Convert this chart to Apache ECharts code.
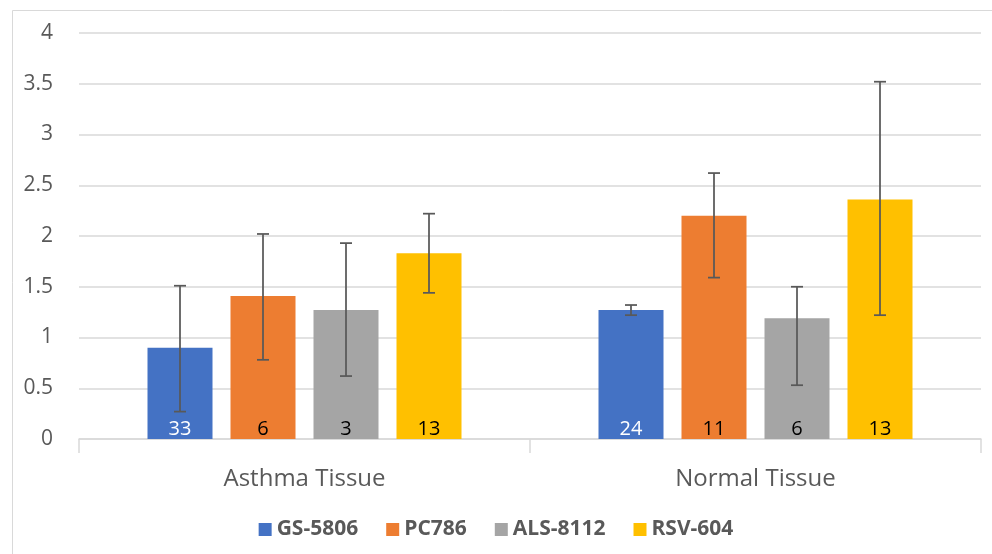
<!DOCTYPE html>
<html>
<head>
<meta charset="utf-8">
<script src="https://cdn.jsdelivr.net/npm/echarts@6/dist/echarts.min.js"></script>
<style>html,body{margin:0;padding:0;background:#fff}#c{width:992px;height:554px}</style>
</head>
<body>
<div id="c"></div>
<script>
const categories = ['Asthma Tissue', 'Normal Tissue'];
const seriesNames = ['GS-5806', 'PC786', 'ALS-8112', 'RSV-604'];
const colors = ['#4472C4', '#ED7D31', '#A5A5A5', '#FFC000'];
const gs5806 = [0.90, 1.27];
const pc786 = [1.41, 2.20];
const als8112 = [1.27, 1.19];
const rsv604 = [1.83, 2.36];
const gs5806Err = [[0.27, 1.51], [1.22, 1.32]];
const pc786Err = [[0.78, 2.02], [1.59, 2.62]];
const als8112Err = [[0.62, 1.93], [0.53, 1.50]];
const rsv604Err = [[1.44, 2.22], [1.22, 3.52]];
const gs5806N = [33, 24];
const pc786N = [6, 11];
const als8112N = [3, 6];
const rsv604N = [13, 13];
const yTicks = [0, 0.5, 1, 1.5, 2, 2.5, 3, 3.5, 4];

const values = [gs5806, pc786, als8112, rsv604];
const errs = [gs5806Err, pc786Err, als8112Err, rsv604Err];
const counts = [gs5806N, pc786N, als8112N, rsv604N];
const labelColors = ['#ffffff', '#000000', '#000000', '#000000'];

const FONT = '"Open Sans", "Noto Sans", sans-serif';
const BAR_W = 65;
const GAP = 18;

const chart = echarts.init(document.getElementById('c'), null, {renderer: 'canvas'});

const series = [];
values.forEach((v, i) => {
  series.push({
    name: seriesNames[i],
    type: 'bar',
    data: v,
    barWidth: BAR_W,
    barGap: (GAP / BAR_W * 100) + '%',
    itemStyle: {color: colors[i]},
    label: {
      show: true,
      position: 'insideBottom',
      distance: 0,
      fontFamily: FONT,
      fontSize: 20,
      color: labelColors[i],
      formatter: p => String(counts[i][p.dataIndex])
    },
    z: 2
  });
});
errs.forEach((e, i) => {
  series.push({
    type: 'custom',
    name: seriesNames[i] + ' err',
    data: e.map((r, k) => [k, r[0], r[1]]),
    encode: {x: 0, y: [1, 2]},
    z: 5,
    silent: true,
    renderItem: function (params, api) {
      const k = api.value(0);
      const lo = api.coord([k, api.value(1)]);
      const hi = api.coord([k, api.value(2)]);
      const off = (i - 1.5) * (BAR_W + GAP);
      const x = lo[0] + off;
      const cap = 6;
      const st = {stroke: '#595959', lineWidth: 1.75};
      return {
        type: 'group',
        children: [
          {type: 'line', shape: {x1: x, y1: lo[1], x2: x, y2: hi[1]}, style: st},
          {type: 'line', shape: {x1: x - cap, y1: lo[1], x2: x + cap, y2: lo[1]}, style: st},
          {type: 'line', shape: {x1: x - cap, y1: hi[1], x2: x + cap, y2: hi[1]}, style: st}
        ]
      };
    }
  });
});

chart.setOption({
  animation: false,
  backgroundColor: '#ffffff',
  color: colors,
  graphic: [{
    type: 'rect', left: 10, top: 8, shape: {width: 1000, height: 600},
    style: {fill: 'none', stroke: '#d9d9d9', lineWidth: 1}, silent: true, z: -1
  }],
  grid: {left: 79, right: 11, top: 33, bottom: 115, containLabel: false},
  legend: {
    data: seriesNames,
    bottom: 9,
    left: 'center',
    itemWidth: 13,
    itemHeight: 13,
    itemGap: 28,
    icon: 'rect',
    textStyle: {fontFamily: FONT, fontSize: 21, fontWeight: 'bold', color: '#595959'}
  },
  xAxis: {
    type: 'category',
    data: categories,
    axisLine: {lineStyle: {color: '#d9d9d9', width: 1.5}},
    axisTick: {show: true, alignWithLabel: false, length: 14, lineStyle: {color: '#d9d9d9', width: 1.5}},
    axisLabel: {fontFamily: FONT, fontSize: 24, color: '#595959', margin: 28}
  },
  yAxis: {
    type: 'value',
    min: yTicks[0],
    max: yTicks[yTicks.length - 1],
    interval: yTicks[1] - yTicks[0],
    axisLine: {show: false},
    axisTick: {show: false},
    splitLine: {lineStyle: {color: '#d9d9d9', width: 1.5}},
    axisLabel: {fontFamily: FONT, fontSize: 21, color: '#595959', margin: 26,
      formatter: v => String(v)}
  },
  series: series
});
</script>
</body>
</html>
